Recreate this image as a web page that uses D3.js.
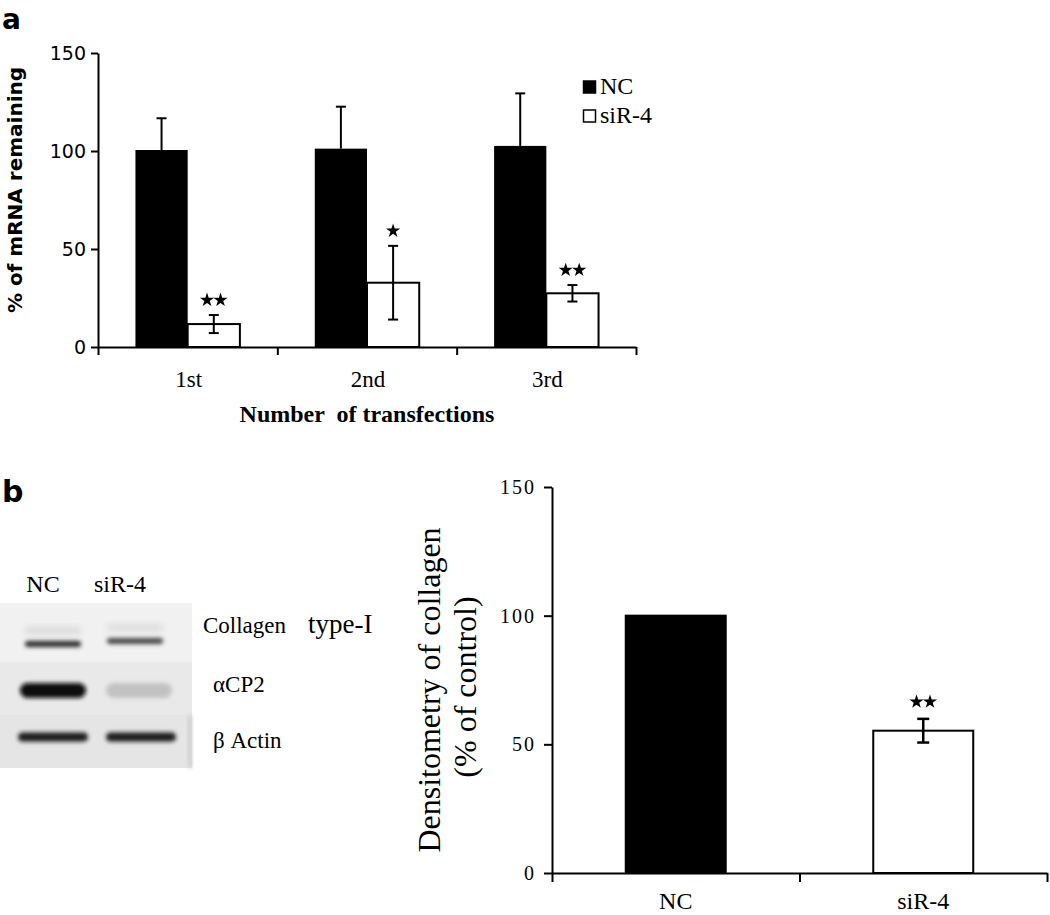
<!DOCTYPE html>
<html><head><meta charset="utf-8">
<script src="https://cdn.jsdelivr.net/npm/d3@7"></script>
<style>body{margin:0;background:#fff} svg{display:block}</style>
</head><body>
<svg id="c" width="1050" height="915"></svg>
<script>
// ---------- data ----------
const groups = ["1st", "2nd", "3rd"];
const seriesNames = ["NC", "siR-4"];
const ncMean = [100.5, 101.2, 102.6];
const ncErr = [16.2, 21.4, 26.8];
const siMean = [11.7, 32.8, 27.4];
const siErr = [4.6, 18.8, 4.2];
const sigA = ["**", "*", "**"];
const yTicksA = [0, 50, 100, 150];

const bCats = ["NC", "siR-4"];
const bMean = [100, 55.3];
const bErr = [0, 4.6];
const sigB = ["", "**"];
const yTicksB = [0, 50, 100, 150];

const blotLanes = ["NC", "siR-4"];
const blotProteins = ["Collagen", "αCP2", "β Actin"];
const blotNC = [0.85, 1.0, 0.92];
const blotSi = [0.72, 0.16, 0.92];

// ---------- setup ----------
const svg = d3.select("#c");
const SANS = "'DejaVu Sans', sans-serif";
const SERIF = "'Liberation Serif', 'Times New Roman', serif";

const defs = svg.append("defs");
defs.append("filter").attr("id", "blur").attr("x", "-30%").attr("y", "-100%").attr("width", "160%").attr("height", "300%")
  .append("feGaussianBlur").attr("stdDeviation", 2.2);
defs.append("filter").attr("id", "blur2").attr("x", "-30%").attr("y", "-100%").attr("width", "160%").attr("height", "300%")
  .append("feGaussianBlur").attr("stdDeviation", 3.5);

function stars(g, cx, cy, s) {
  const n = s.length;
  const sym = d3.symbol().type(d3.symbolStar).size(62);
  for (let k = 0; k < n; k++) {
    const x = cx + (k - (n - 1) / 2) * 13.5;
    g.append("path").attr("d", sym()).attr("transform", `translate(${x},${cy})`).attr("fill", "#000");
  }
}
function styleAxis(g, font, size, ls) {
  g.select(".domain").attr("stroke", "#000").attr("stroke-width", 2);
  g.selectAll(".tick line").attr("stroke", "#000").attr("stroke-width", 2);
  g.selectAll(".tick text").attr("font-family", font).attr("font-size", size).attr("fill", "#000")
    .attr("letter-spacing", ls || 0);
}

// ---------- panel a ----------
const ya = d3.scaleLinear().domain([0, 150]).range([347, 53]);
const xg = d3.scaleBand().domain(groups).range([98, 636]).padding(0);
const xs = d3.scaleBand().domain(seriesNames).range([0, xg.bandwidth()]).paddingInner(0).paddingOuter(0.717);
const xIdxA = d3.scaleLinear().domain([0, groups.length]).range([98, 636]);

const pa = svg.append("g");
groups.forEach((grp, i) => {
  const x0 = xg(grp);
  const xn = x0 + xs("NC"), w = xs.bandwidth();
  pa.append("rect").attr("x", xn).attr("y", ya(ncMean[i])).attr("width", w)
    .attr("height", ya(0) - ya(ncMean[i])).attr("fill", "#000");
  const cxn = xn + w / 2;
  pa.append("line").attr("x1", cxn).attr("x2", cxn).attr("y1", ya(ncMean[i])).attr("y2", ya(ncMean[i] + ncErr[i]))
    .attr("stroke", "#000").attr("stroke-width", 2);
  pa.append("line").attr("x1", cxn - 5).attr("x2", cxn + 5).attr("y1", ya(ncMean[i] + ncErr[i])).attr("y2", ya(ncMean[i] + ncErr[i]))
    .attr("stroke", "#000").attr("stroke-width", 2);
  const xsr = x0 + xs("siR-4");
  pa.append("rect").attr("x", xsr).attr("y", ya(siMean[i])).attr("width", w)
    .attr("height", ya(0) - ya(siMean[i])).attr("fill", "#fff").attr("stroke", "#000").attr("stroke-width", 2);
  const cxs = xsr + w / 2;
  const top = ya(siMean[i] + siErr[i]), bot = ya(siMean[i] - siErr[i]);
  pa.append("line").attr("x1", cxs).attr("x2", cxs).attr("y1", top).attr("y2", bot).attr("stroke", "#000").attr("stroke-width", 2);
  [top, bot].forEach(yy => pa.append("line").attr("x1", cxs - 5).attr("x2", cxs + 5).attr("y1", yy).attr("y2", yy)
    .attr("stroke", "#000").attr("stroke-width", 2));
  stars(pa, cxs, top - 15, sigA[i]);
  pa.append("text").attr("x", x0 + xg.bandwidth() / 2 + 1).attr("y", 387).attr("text-anchor", "middle")
    .attr("font-family", SERIF).attr("font-size", 23).text(grp);
});

const yAxA = pa.append("g").attr("transform", "translate(98,0)")
  .call(d3.axisLeft(ya).tickValues(yTicksA).tickSize(7).tickSizeOuter(0).tickPadding(5));
styleAxis(yAxA, SANS, 19);
const xAxA = pa.append("g").attr("transform", "translate(0,347)")
  .call(d3.axisBottom(xIdxA).tickValues(d3.range(groups.length + 1)).tickSize(8).tickSizeOuter(0).tickFormat(""));
styleAxis(xAxA, SANS, 19);

pa.append("text").attr("transform", "translate(22,190) rotate(-90)").attr("text-anchor", "middle")
  .attr("font-family", SANS).attr("font-weight", "bold").attr("font-size", 20).text("% of mRNA remaining");
pa.append("text").attr("x", 367).attr("y", 422).attr("text-anchor", "middle").attr("xml:space", "preserve")
  .style("white-space", "pre")
  .attr("font-family", SERIF).attr("font-weight", "bold").attr("font-size", 24).text("Number  of transfections");
pa.append("text").attr("x", 2).attr("y", 29).attr("font-family", SANS).attr("font-weight", "bold")
  .attr("font-size", 28).text("a");

// legend
const lg = pa.append("g");
seriesNames.forEach((s, k) => {
  const yy = 81 + k * 29;
  lg.append("rect").attr("x", 583.5).attr("y", yy).attr("width", 12).attr("height", 12)
    .attr("fill", k === 0 ? "#000" : "#fff").attr("stroke", "#000").attr("stroke-width", 1.5);
  lg.append("text").attr("x", 600).attr("y", yy + 13).attr("font-family", SERIF).attr("font-size", 24).text(s);
});

// ---------- panel b : blot ----------
const pb = svg.append("g");
pb.append("text").attr("x", 2).attr("y", 502).attr("font-family", SANS).attr("font-weight", "bold")
  .attr("font-size", 30).text("b");

const blot = pb.append("g");
blot.append("rect").attr("x", 0).attr("y", 603).attr("width", 192).attr("height", 59).attr("fill", "#f1f1f1");
blot.append("rect").attr("x", 0).attr("y", 662).attr("width", 192).attr("height", 53).attr("fill", "#e9e9e9");
blot.append("rect").attr("x", 0).attr("y", 715).attr("width", 192).attr("height", 53).attr("fill", "#e5e5e5");
blot.append("rect").attr("x", 188).attr("y", 715).attr("width", 4).attr("height", 53).attr("fill", "#cfcfcf").attr("filter", "url(#blur)");

const laneX = d3.scalePoint().domain(blotLanes).range([53, 135]);
const rowY = d3.scalePoint().domain(blotProteins).range([644, 737]);
const bandW = [56, 66, 70];
const bandH = [6, 15, 9];
const shade = d3.interpolateRgb("#e6e6e6", "#080808");
blotProteins.forEach((p, r) => {
  [blotNC, blotSi].forEach((vals, li) => {
    const cx = laneX(blotLanes[li]) + (r === 2 ? li * 6 : 0) + (r === 1 && li === 1 ? 4 : 0);
    const cy = rowY(p) - (r === 0 && li === 1 ? 3 : 0);
    if (r === 0) {
      blot.append("rect").attr("x", cx - bandW[r] / 2).attr("y", cy - 16).attr("width", bandW[r]).attr("height", 5)
        .attr("rx", 2).attr("fill", shade(vals[r] * 0.12)).attr("filter", "url(#blur2)");
    }
    blot.append("rect").attr("x", cx - bandW[r] / 2).attr("y", cy - bandH[r] / 2).attr("width", bandW[r]).attr("height", bandH[r])
      .attr("rx", bandH[r] / 2).attr("fill", shade(vals[r])).attr("filter", "url(#blur)");
  });
});
blot.append("text").attr("x", 43).attr("y", 592).attr("text-anchor", "middle").attr("font-family", SERIF).attr("font-size", 24).text(blotLanes[0]);
blot.append("text").attr("x", 120).attr("y", 592).attr("text-anchor", "middle").attr("font-family", SERIF).attr("font-size", 24).text(blotLanes[1]);
const t0 = blot.append("text").attr("x", 203).attr("y", 633).attr("font-family", SERIF).attr("font-size", 23);
t0.append("tspan").text(blotProteins[0]);
t0.append("tspan").attr("x", 308).attr("font-size", 27).text("type-I");
blot.append("text").attr("x", 213).attr("y", 692).attr("font-family", SERIF).attr("font-size", 23).text(blotProteins[1]);
blot.append("text").attr("x", 213).attr("y", 748).attr("font-family", SERIF).attr("font-size", 23).text(blotProteins[2]);

// ---------- panel b : chart ----------
const yb = d3.scaleLinear().domain([0, 150]).range([873, 487]);
const xb = d3.scaleBand().domain(bCats).range([552, 1047]).paddingInner(0.596).paddingOuter(0.298);
const xIdxB = d3.scaleLinear().domain([0, bCats.length]).range([552, 1047]);

bCats.forEach((c, i) => {
  const x = xb(c), w = xb.bandwidth();
  pb.append("rect").attr("x", x).attr("y", yb(bMean[i])).attr("width", w).attr("height", yb(0) - yb(bMean[i]))
    .attr("fill", i === 0 ? "#000" : "#fff").attr("stroke", "#000").attr("stroke-width", 2);
  const cx = x + w / 2;
  if (bErr[i] > 0) {
    const top = yb(bMean[i] + bErr[i]), bot = yb(bMean[i] - bErr[i]);
    pb.append("line").attr("x1", cx).attr("x2", cx).attr("y1", top).attr("y2", bot).attr("stroke", "#000").attr("stroke-width", 2.5);
    [top, bot].forEach(yy => pb.append("line").attr("x1", cx - 6).attr("x2", cx + 6).attr("y1", yy).attr("y2", yy)
      .attr("stroke", "#000").attr("stroke-width", 2.5));
    stars(pb, cx, top - 17, sigB[i]);
  }
  pb.append("text").attr("x", cx).attr("y", 909).attr("text-anchor", "middle")
    .attr("font-family", SERIF).attr("font-size", 24).text(c);
});

const yAxB = pb.append("g").attr("transform", "translate(552,0)")
  .call(d3.axisLeft(yb).tickValues(yTicksB).tickSize(8).tickSizeOuter(0).tickPadding(8));
styleAxis(yAxB, SERIF, 20, 2);
const xAxB = pb.append("g").attr("transform", "translate(0,873)")
  .call(d3.axisBottom(xIdxB).tickValues(d3.range(bCats.length + 1)).tickSize(9).tickSizeOuter(0).tickFormat(""));
styleAxis(xAxB, SERIF, 20);

pb.append("text").attr("transform", "translate(440,690) rotate(-90)").attr("text-anchor", "middle")
  .attr("font-family", SERIF).attr("font-size", 32).text("Densitometry of collagen");
pb.append("text").attr("transform", "translate(476,687) rotate(-90)").attr("text-anchor", "middle")
  .attr("font-family", SERIF).attr("font-size", 32).text("(% of control)");
</script>
</body></html>
